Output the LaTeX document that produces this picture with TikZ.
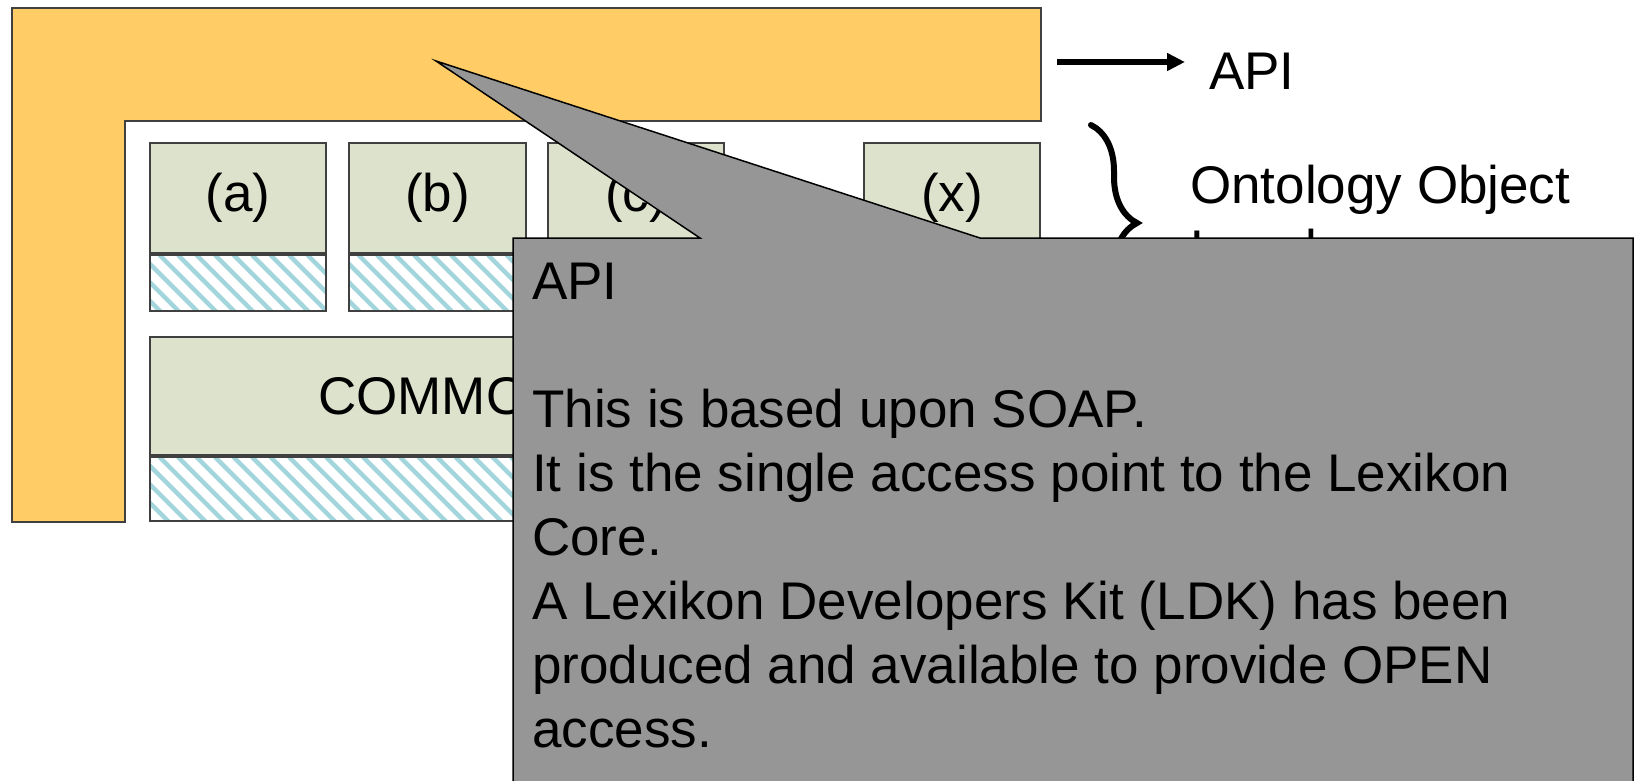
\documentclass[tikz,border=0pt]{standalone}
\usepackage{fontspec}
\setmainfont{Liberation Sans}
\usetikzlibrary{arrows.meta, positioning, calc, decorations.pathreplacing}
\definecolor{apiyellow}{RGB}{255,204,102}
\definecolor{objgreen}{RGB}{221,226,204}
\definecolor{hatchblue}{RGB}{162,214,220}
\definecolor{notegray}{RGB}{150,150,150}
\definecolor{edgegray}{RGB}{64,64,64}
\newcommand{\bigfont}{\fontsize{53}{64}\selectfont}

\begin{document}
\begin{tikzpicture}[x=1pt, y=1pt,
    apiframe/.style={draw=edgegray, line width=1.5pt, fill=apiyellow},
    objbox/.style={draw=edgegray, line width=2pt, fill=objgreen, anchor=north west, inner sep=0pt, font=\bigfont, text=black},
    hatchbox/.style={draw=edgegray, line width=2pt, anchor=north west, inner sep=0pt, fill=white,
        path picture={\foreach \k in {-120,-101.5,...,900}
            \draw[hatchblue, line width=4.5pt] ([xshift=\k pt]path picture bounding box.north west) -- ++(130,-130);}},
    sidetext/.style={inner sep=0pt, font=\bigfont, align=left},
    notebox/.style={draw=black, line width=1.5pt, fill=notegray}]
    \useasboundingbox (0,0) rectangle (1638,-780);

    % API frame
    \draw[apiframe] (12,-8) -- (1041,-8) -- (1041,-121) -- (125,-121) -- (125,-522) -- (12,-522) -- cycle;
    \coordinate (apiout) at (1057,-62);
    \coordinate (apitip) at (436,-61);

    % ontology objects
    \foreach \name/\x/\w in {a/149/176, b/348/177, c/547/176, x/863/176} {
        \node[objbox, minimum width=\w, minimum height=110] (obj\name) at (\x,-142) {(\name)};
        \node[hatchbox, minimum width=\w, minimum height=56] (hatch\name) at (obj\name.south west) {};
    }
    \node[objbox, minimum width=890, minimum height=118] (common) at (149,-336) {};
    \node[hatchbox, minimum width=890, minimum height=64] (hatchcommon) at (common.south west) {};
    \node[inner sep=0pt, font=\bigfont, anchor=west] (commonlbl) at ($(common.west)+(169,0)$) {COMMON};

    % labels on the right
    \node[sidetext, anchor=base west] (apilbl) at (1209,-89) {API};
    \draw[line width=5.5pt, -{Triangle[length=18pt, width=17pt]}, shorten >=24pt] (apiout) -- (apiout -| apilbl.west);
    \coordinate (bracetop) at (1091,-125);
    \coordinate (bracebot) at (1091,-321);
    \draw[line width=6pt, line cap=round, decorate, decoration={brace, amplitude=46pt}] (bracetop) -- (bracebot);
    \node[sidetext, anchor=north west] (ontlbl) at (1190,-165) {Ontology Object\\Level};

    % note
    \draw[notebox] (513,-238) -- (700,-238) -- (apitip) -- (980,-238) -- (1633,-238) -- (1633,-800) -- (513,-800) -- cycle;
    \node[sidetext, anchor=north west] (notetext) at (532,-263) {API\\ \\This is based upon SOAP.\\It is the single access point to the Lexikon\\Core.\\A Lexikon Developers Kit (LDK) has been\\produced and available to provide OPEN\\access.};
\end{tikzpicture}
\end{document}
